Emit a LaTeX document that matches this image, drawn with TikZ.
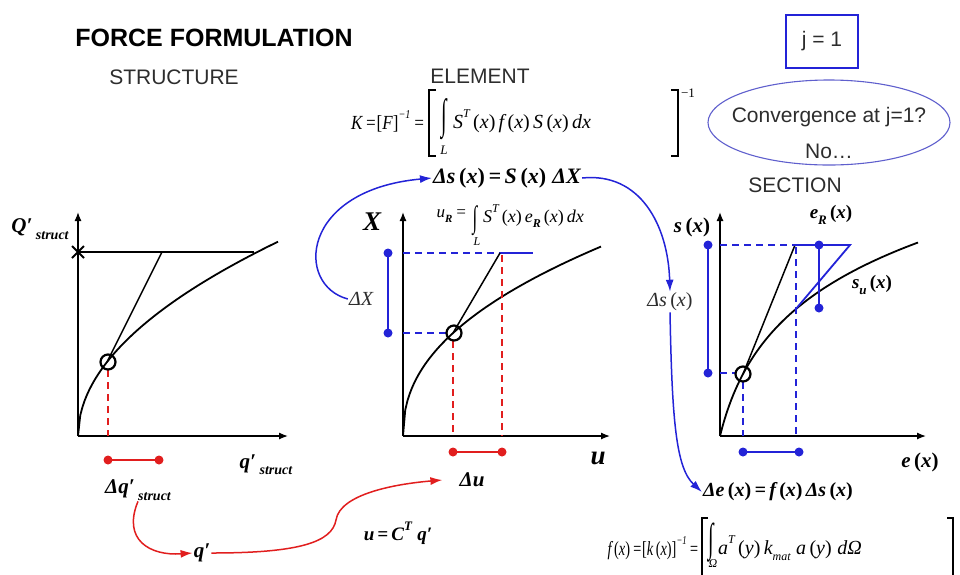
\documentclass[tikz,border=0pt]{standalone}
\usepackage{fontspec}
\usepackage{graphicx}
\setmainfont{Liberation Sans}
\newfontfamily\tms{Liberation Serif}
\usetikzlibrary{arrows.meta}
\definecolor{bblue}{RGB}{35,35,215}
\definecolor{rred}{RGB}{225,30,30}
\definecolor{ellblue}{RGB}{95,95,205}
\definecolor{tgray}{RGB}{45,45,45}
\newcommand{\sups}[2][12]{\raisebox{0.55em}{\fontsize{#1}{#1}\selectfont #2}}
\newcommand{\subs}[2][12]{\raisebox{-0.3em}{\fontsize{#1}{#1}\selectfont #2}}
\newcommand{\lp}{\textup{(}}
\newcommand{\rp}{\textup{)}}
\begin{document}
\begin{tikzpicture}[x=1pt,y=-1pt,
  axis/.style={line width=1.3pt,-{Latex[length=9pt,width=7pt]}},
  curve/.style={line width=1.8pt},
  dsh/.style={dash pattern=on 7pt off 5pt,line width=1.8pt},
  barline/.style={line width=2pt},
  arr/.style={line width=1.5pt,-{Latex[length=12pt,width=8pt]}},
  mk/.style={draw,circle,line width=2.2pt,minimum size=15pt,inner sep=0pt},
  brk/.style={line width=1.2pt},
  mb/.style={inner sep=1pt,font=\tms\bfseries\itshape\fontsize{21}{24}\selectfont},
  mi/.style={inner sep=1pt,font=\tms\itshape\fontsize{20}{23}\selectfont},
  small/.style={inner sep=0pt,font=\tms\itshape\fontsize{13}{14}\selectfont},
  head/.style={inner sep=0pt,font=\fontsize{21}{25}\selectfont,text=tgray}]
\useasboundingbox (0,0) rectangle (960,574);

% titles
\node[inner sep=0pt,font=\fontsize{25}{30}\selectfont\bfseries] (title) at (214,38) {FORCE FORMULATION};
\node[head] (hstruct) at (174,77) {STRUCTURE};
\node[head] (helem) at (480,76) {ELEMENT};
\node[head] (hsect) at (795,185) {SECTION};
\node[draw=bblue,line width=2pt,minimum width=72pt,minimum height=53pt,inner sep=0pt,
      font=\fontsize{21}{25}\selectfont,text=tgray] (jbox) at (822,41) {j = 1};
\draw[ellblue,line width=1.1pt] (829,122.5) ellipse [x radius=121, y radius=42.5];
\node[head] (conv1) at (829,117) {Convergence at j=1?};
\node[head] (conv2) at (829,151) {No…};

% ===== structure plot =====
\coordinate (so) at (78,436);
\draw[axis] (so) -- (78,212);
\draw[axis] (so) -- (288,436);
\draw[curve] plot[domain=0:200,samples=90] ({78+\x},{436-13.74*sqrt(\x)});
\draw[line width=1.5pt] (78,252) -- (254,252);
\draw[line width=1.5pt] (107,362) -- (162,252);
\draw[line width=2pt] (72,246) -- (84,258) (72,258) -- (84,246);
\draw[rred,dsh] (108,370) -- (108,436);
\node[mk] (sc) at (108,362) {};
\draw[rred,barline] (108,460) -- (159,460);
\fill[rred] (108,460) circle [radius=4.5];
\fill[rred] (159,460) circle [radius=4.5];
\node[mb] (Qs) at (40,229) {Q′\,\subs[14]{struct}};
\node[mb] (qs) at (266,465) {q′\,\subs[14]{struct}};
\node[mb] (dq) at (138,490) {Δq′\,\subs[14]{struct}};

% ===== element plot =====
\coordinate (eo) at (403,436);
\draw[axis] (eo) -- (403,212);
\draw[axis] (eo) -- (610,436);
\draw[curve] plot[domain=0.0001:198,samples=90] ({403+\x},{436-18.2*(\x)^0.443});
\draw[bblue,dsh] (403,253) -- (500,253);
\draw[bblue,line width=1.8pt] (500,253) -- (533,253);
\draw[line width=1.5pt] (453,333) -- (500,253);
\draw[bblue,dsh] (403,333) -- (446,333);
\draw[rred,dsh] (453,341) -- (453,436);
\draw[rred,dsh] (502,255) -- (502,436);
\node[mk] (ec) at (454,333) {};
\draw[bblue,barline] (388,253) -- (388,333);
\fill[bblue] (388,253) circle [radius=4.5];
\fill[bblue] (388,333) circle [radius=4.5];
\draw[rred,barline] (453,452) -- (502,452);
\fill[rred] (453,452) circle [radius=4.5];
\fill[rred] (502,452) circle [radius=4.5];
\node[mb,font=\tms\bfseries\itshape\fontsize{27}{30}\selectfont] (Xl) at (372,222) {X};
\node[mb,font=\tms\bfseries\itshape\fontsize{27}{30}\selectfont] (ul) at (598,458) {u};
\node[mi,text=tgray] (dX) at (361,299) {ΔX};
\node[mb] (du) at (472,480) {Δu};

% K formula
\node[mi,anchor=east] (k1) at (426,121) {\scalebox{0.85}[1]{K\,=\textup{[}F\textup{]}\sups{−1}\,=}};
\draw[brk] (436,90) -- (429,90) -- (429,156) -- (436,156);
\node[mi] (kint) at (444,119) {\scalebox{1}[2.1]{∫}};
\node[small] (kL) at (444,150) {L};
\node[mi,anchor=west] (k2) at (452,121) {S\sups{T}\,\lp x\rp\,f\,\lp x\rp\,S\,\lp x\rp\,dx};
\draw[brk] (671,90) -- (678,90) -- (678,156) -- (671,156);
\node[small,font=\tms\fontsize{13}{14}\selectfont] (km1) at (688,93) {−1};

\node[mb,font=\tms\bfseries\itshape\fontsize{22}{26}\selectfont] (dsf) at (507,178) {Δs\,\lp x\rp\,=\,S\,\lp x\rp\;ΔX};

% u_R formula
\node[mi,font=\tms\itshape\fontsize{17}{20}\selectfont,anchor=east] (ur1) at (468,216) {u\subs[11]{\bfseries R}\,=};
\node[mi,font=\tms\itshape\fontsize{17}{20}\selectfont] (urint) at (475,221) {\scalebox{1}[1.8]{∫}};
\node[small,font=\tms\itshape\fontsize{12}{13}\selectfont] (urL) at (477,242) {L};
\node[mi,font=\tms\itshape\fontsize{18}{21}\selectfont,anchor=west] (ur2) at (482,216) {S\sups[12]{T}\,\lp x\rp\,e\subs[12]{\bfseries R}\,\lp x\rp\,dx};

% ===== section plot =====
\coordinate (co) at (720,436);
\draw[axis] (co) -- (720,212);
\draw[axis] (co) -- (926,436);
\draw[curve] plot[domain=0:198,samples=90] ({720+\x},{436-81*ln(1+\x/20)});
\draw[line width=1.5pt] (743,374) -- (795,245);
\draw[bblue,dsh] (720,245) -- (795,245);
\draw[bblue,line width=1.8pt] (795,245) -- (850,245) -- (795,310);
\draw[bblue,dsh] (720,373) -- (736,373);
\draw[bblue,dsh] (743,382) -- (743,436);
\draw[bblue,dsh] (796,247) -- (796,436);
\node[mk] (cc) at (743,374) {};
\draw[bblue,barline] (708,245) -- (708,373);
\fill[bblue] (708,245) circle [radius=4.5];
\fill[bblue] (708,373) circle [radius=4.5];
\draw[bblue,barline] (819,245) -- (819,308);
\fill[bblue] (819,245) circle [radius=4.5];
\fill[bblue] (819,308) circle [radius=4.5];
\draw[bblue,barline] (743,452) -- (799,452);
\fill[bblue] (743,452) circle [radius=4.5];
\fill[bblue] (799,452) circle [radius=4.5];
\node[mb] (sl) at (692,227) {s\,\lp x\rp};
\node[mb,font=\tms\bfseries\itshape\fontsize{19}{22}\selectfont] (eRl) at (831,215) {e\subs[13]{R}\,\lp x\rp};
\node[mb,font=\tms\bfseries\itshape\fontsize{19}{22}\selectfont] (sul) at (872,285) {s\subs[13]{u}\,\lp x\rp};
\node[mb] (el) at (920,462) {e\,\lp x\rp};
\node[mi,text=tgray] (dsl) at (670,302) {Δs\,\lp x\rp};
\node[mb,font=\tms\bfseries\itshape\fontsize{20}{24}\selectfont] (def) at (778,492) {Δe\,\lp x\rp\,=\,f\,\lp x\rp\,Δs\,\lp x\rp};

% f formula
\node[mi,anchor=east] (f1) at (700,548) {\scalebox{0.72}[1]{f\,\lp x\rp\,=\textup{[}k\,\lp x\rp\textup{]}\sups{−1}\,=}};
\draw[brk] (708,518) -- (702,518) -- (702,580);
\node[mi] (fint) at (711,543) {\scalebox{1}[2]{∫}};
\node[small,font=\tms\itshape\fontsize{12}{13}\selectfont] (fO) at (713,564) {Ω};
\node[mi,anchor=west] (f2) at (717,548) {a\sups{T}\,\lp y\rp\,k\subs{mat}\;a\,\lp y\rp\;dΩ};
\draw[brk] (947,518) -- (953,518) -- (953,580);

% ===== bottom =====
\node[mb] (qp) at (202,553) {q′};
\node[mb,font=\tms\bfseries\itshape\fontsize{19}{22}\selectfont] (uc) at (398,533) {u\,=\,C\sups[13]{T}\;q′};

% ===== connectors =====
\draw[bblue,arr] (dX.west) .. controls (295,285) and (300,190) .. (dsf.west);
\draw[bblue,arr] (dsf.east) .. controls (640,172) and (668,225) .. (dsl.north);
\draw[bblue,arr] (dsl.south) .. controls (672,420) and (676,468) .. (def.west);
\draw[rred,arr] (dq.south) .. controls (122,540) and (150,556) .. (qp.west);
\draw[rred,arr] (qp.east) .. controls (300,553) and (332,542) .. (336,520)
   .. controls (340,494) and (395,484) .. ([xshift=-16pt]du.west);
\end{tikzpicture}
\end{document}
